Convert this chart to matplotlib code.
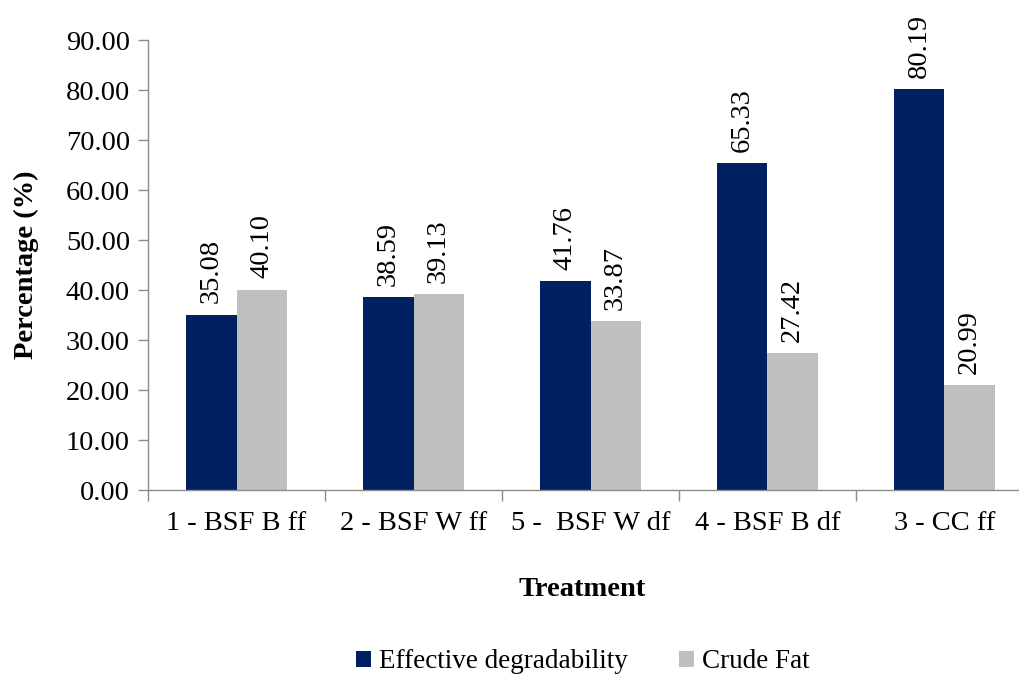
import numpy as np
import matplotlib.pyplot as plt
from matplotlib.patches import Patch

plt.rcParams['font.family'] = ['Liberation Serif', 'DejaVu Serif']

# data
treatments = ['1 - BSF B ff', '2 - BSF W ff', '5 -  BSF W df', '4 - BSF B df', '3 - CC ff']
effective_deg = [35.08, 38.59, 41.76, 65.33, 80.19]
crude_fat = [40.10, 39.13, 33.87, 27.42, 20.99]

navy = '#002060'
grey = '#BFBFBF'
spine_col = '#8C8C8C'
fs = 20.5

W, H = 1020, 677
fig = plt.figure(figsize=(W / 100, H / 100), dpi=100)
# axes: left spine at x=148, y=0 at 490, y=90 at 40; right edge runs off the picture
ax = fig.add_axes([148 / W, (H - 490) / H, (1033 - 148) / W, 450 / H])

x = np.arange(len(treatments))
bw = 0.283
b1 = ax.bar(x - bw / 2, effective_deg, bw, color=navy)
b2 = ax.bar(x + bw / 2, crude_fat, bw, color=grey)

for bars, vals in ((b1, effective_deg), (b2, crude_fat)):
    for r, v in zip(bars, vals):
        ax.annotate(f'{v:.2f}', (r.get_x() + r.get_width() / 2, v),
                    xytext=(0, 8), textcoords='offset points',
                    rotation=90, ha='center', va='bottom', fontsize=fs)

ax.set_xlim(-0.5, len(treatments) - 0.5)
ax.set_ylim(0, 90)
ax.set_yticks(np.arange(0, 91, 10))
ax.set_yticklabels([f'{t:.2f}' for t in np.arange(0, 91, 10)], fontsize=fs)
ax.set_xticks(x)
ax.set_xticklabels(treatments, fontsize=fs)
ax.tick_params(axis='x', which='major', length=0, pad=15)
ax.set_xticks(np.arange(-0.5, len(treatments)), minor=True)
ax.tick_params(axis='x', which='minor', length=8, color=spine_col, width=1)
ax.tick_params(axis='y', length=7, color=spine_col, width=1, pad=6)

for s in ('top', 'right'):
    ax.spines[s].set_visible(False)
for s in ('left', 'bottom'):
    ax.spines[s].set_color(spine_col)
    ax.spines[s].set_linewidth(1)

ax.set_ylabel('Percentage (%)', fontsize=fs, fontweight='bold')
ax.yaxis.set_label_coords((39 - 148) / 885, 0.5)
fig.text(582 / W, 1 - 590 / H, 'Treatment', fontsize=fs, fontweight='bold',
         ha='center', va='center')

handles = [Patch(facecolor=navy), Patch(facecolor=grey)]
fig.legend(handles, ['Effective degradability', 'Crude Fat'],
           loc='center', bbox_to_anchor=(583 / W, 1 - 662 / H), ncol=2,
           frameon=False, fontsize=19.5, handlelength=0.55, handleheight=0.55,
           handletextpad=0.3, columnspacing=1.9)

fig.savefig('out.png', dpi=100)
